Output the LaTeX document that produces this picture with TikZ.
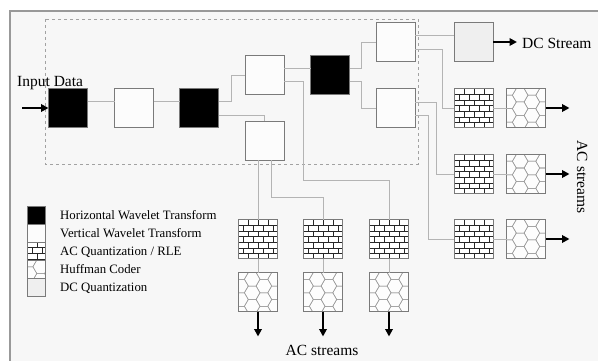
\documentclass[tikz,border=0pt]{standalone}
\usepackage{fontspec}
\setmainfont{Liberation Serif}
\usetikzlibrary{arrows.meta,calc}
\definecolor{panel}{HTML}{F7F7F7}
\definecolor{edge}{HTML}{7A7A7A}
\definecolor{wirec}{HTML}{B4B4B4}
\definecolor{hexc}{HTML}{9A9A9A}
\definecolor{dcfill}{HTML}{EFEFEF}
\tikzset{
  box/.style={draw=edge, line width=0.9pt, minimum width=39pt, minimum height=39pt,
              inner sep=0pt, outer sep=0pt},
  hwt/.style={box, fill=black},
  vwt/.style={box, fill=white!60!panel},
  dcq/.style={box, fill=dcfill},
  brickbox/.style={box, fill=white},
  hexbox/.style={box, fill=white!70!panel},
  swatch/.style={minimum width=18pt, minimum height=18pt},
  wire/.style={draw=wirec, line width=0.8pt},
  flow/.style={line width=1.8pt, -{Triangle[length=7.5pt,width=7.5pt]}},
  biglabel/.style={font=\fontsize{15.5}{18}\selectfont, inner sep=0pt},
  legtext/.style={font=\fontsize{12.8}{15}\selectfont, inner sep=0pt, anchor=base west},
}
% brick texture inside a named node
\newcommand\brickfill[1]{%
  \begin{scope}
    \clip (#1.north west) rectangle (#1.south east);
    \begin{scope}[shift={(#1.north west)}, line width=0.7pt, black!85]
      \foreach \r in {1,...,6} {\draw (0,\r*5.714) -- (40,\r*5.714);}
      \foreach \r in {0,...,6} {
        \pgfmathsetmacro\off{mod(\r,2)*5}
        \foreach \k in {0,...,4} {\draw (\off+\k*10,\r*5.714) -- ++(0,5.714);}
      }
    \end{scope}
  \end{scope}
  \draw[draw=edge, line width=0.9pt] (#1.north west) rectangle (#1.south east);}
% honeycomb texture inside a named node
\newcommand\hexfill[1]{%
  \begin{scope}
    \clip (#1.north west) rectangle (#1.south east);
    \begin{scope}[shift={(#1.north west)}, line width=0.5pt, hexc]
      \foreach \j in {0,...,4} {
        \pgfmathsetmacro\dy{mod(\j,2)*6.75}
        \foreach \i in {0,...,4} {
          \pgfmathsetmacro\cx{\j*11.7+2}
          \pgfmathsetmacro\cy{\i*13.5+\dy}
          \draw (\cx+7.8,\cy) -- (\cx+3.9,\cy+6.75) -- (\cx-3.9,\cy+6.75) -- (\cx-7.8,\cy)
                -- (\cx-3.9,\cy-6.75) -- (\cx+3.9,\cy-6.75) -- cycle;
        }
      }
    \end{scope}
  \end{scope}
  \draw[draw=edge, line width=0.9pt] (#1.north west) rectangle (#1.south east);}
\begin{document}
\begin{tikzpicture}[x=1pt, y=-1pt]
\useasboundingbox (0,0) rectangle (598,361);
\fill[white] (0,0) rectangle (598,361);
\fill[panel] (10,11) rectangle (598,361);
\draw[line width=1.6pt, black!40] (10,361) -- (10,11) -- (598,11);

% transform stage enclosure
\draw[dashed, edge!70, line width=0.6pt] (45,19) rectangle (418,164);

% wavelet transform cascade
\node[hwt] (b1) at (68,108) {};
\node[vwt] (b2) at (134,108) {};
\node[hwt] (b3) at (199,108) {};
\node[vwt] (b4) at (264.5,75) {};
\node[vwt] (b5) at (264.5,141) {};
\node[hwt] (b6) at (330,75) {};
\node[vwt] (b7) at (395.5,42) {};
\node[vwt] (b8) at (395.5,108) {};

% DC path
\node[dcq] (dc) at (473.5,42) {};

% right-hand coders
\node[brickbox] (rb1) at (473.5,108) {};
\node[brickbox] (rb2) at (473.5,174) {};
\node[brickbox] (rb3) at (473.5,239) {};
\node[hexbox] (rh1) at (526,108) {};
\node[hexbox] (rh2) at (526,174) {};
\node[hexbox] (rh3) at (526,239) {};

% bottom coders
\node[brickbox] (bb1) at (258,239) {};
\node[brickbox] (bb2) at (323,239) {};
\node[brickbox] (bb3) at (389,239) {};
\node[hexbox] (bh1) at (258,292) {};
\node[hexbox] (bh2) at (323,292) {};
\node[hexbox] (bh3) at (389,292) {};

\foreach \n in {rb1,rb2,rb3,bb1,bb2,bb3} {\brickfill{\n}}
\foreach \n in {rh1,rh2,rh3,bh1,bh2,bh3} {\hexfill{\n}}

% routing levels
\coordinate (k1) at (0,180);
\coordinate (k2) at (0,197);

% connections
\draw[wire] ([yshift=7pt]b1.east) -- ([yshift=7pt]b2.west);
\draw[wire] ([yshift=7pt]b2.east) -- ([yshift=7pt]b3.west);
\draw[wire] ([yshift=7pt]b3.east) -- ++(13,0) |- (b4.west);
\draw[wire] ([yshift=-7pt]b3.east) -| (b5.north);
\draw[wire] ([yshift=7pt]b4.east) -- ([yshift=7pt]b6.west);
\draw[wire] ([yshift=-6pt]b4.east) -- ++(19,0) |- (bb3.north |- k1) -- (bb3.north);
\draw[wire] ([xshift=-6.5pt]b5.south) -- (bb1.north);
\draw[wire] ([xshift=6.5pt]b5.south) -- ([xshift=6.5pt]b5.south |- k2) -| (bb2.north);
\draw[wire] ([yshift=7pt]b6.east) -- ++(12,0) |- (b7.west);
\draw[wire] ([yshift=-6pt]b6.east) -- ++(12,0) |- (b8.west);
\draw[wire] ([yshift=7pt]b7.east) -- ([yshift=7pt]dc.west);
\draw[wire] ([yshift=-7pt]b7.east) -- ++(27,0) |- (rb1.west);
\draw[wire] ([yshift=6pt]b8.east) -- ++(21,0) |- (rb2.west);
\draw[wire] ([yshift=-7pt]b8.east) -- ++(13,0) |- (rb3.west);
\foreach \n in {1,2,3} {
  \draw[wire] (rb\n.east) -- (rh\n.west);
  \draw[wire] (bb\n.south) -- (bh\n.north);
}

% stream outputs
\coordinate (in) at (22,108);
\draw[flow] (in) -- (b1.west);
\draw[flow] (dc.east) -- ++(24,0);
\foreach \n in {1,2,3} {
  \draw[flow] (rh\n.east) -- ++(24,0);
  \draw[flow] (bh\n.south) -- ++(0,25);
}

% labels
\node[biglabel, anchor=base west] (inlab) at (17,87) {Input Data};
\node[biglabel, anchor=base west] (dclab) at (522,49) {DC Stream};
\node[biglabel, anchor=base] (aclab1) at (322,355) {AC streams};
\node[biglabel, rotate=-90, anchor=base] (aclab2) at (577,177) {AC streams};

% legend
\node[hwt, swatch] (lg1) at (36,215) {};
\node[vwt, swatch] (lg2) at (36,233) {};
\node[brickbox, swatch] (lg3) at (36,251) {};
\node[hexbox, swatch] (lg4) at (36,269) {};
\node[dcq, swatch] (lg5) at (36,287) {};
\brickfill{lg3}
\hexfill{lg4}
\node[legtext] (lt1) at (60,219) {Horizontal Wavelet Transform};
\node[legtext] (lt2) at (60,237) {Vertical Wavelet Transform};
\node[legtext] (lt3) at (60,255) {AC Quantization / RLE};
\node[legtext] (lt4) at (60,273) {Huffman Coder};
\node[legtext] (lt5) at (60,291) {DC Quantization};
\end{tikzpicture}
\end{document}
